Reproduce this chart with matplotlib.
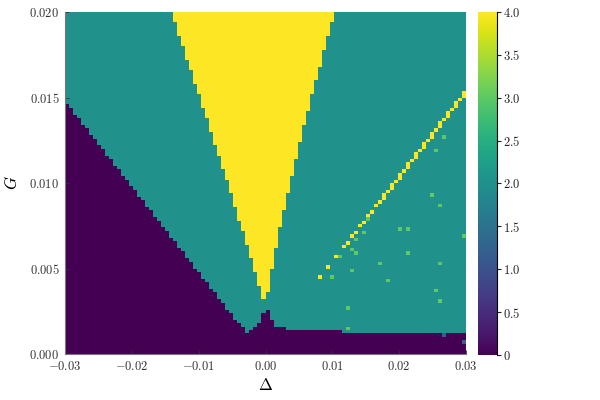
import numpy as np
import matplotlib
matplotlib.use("Agg")
import matplotlib.pyplot as plt
from matplotlib.ticker import FixedLocator, FixedFormatter

plt.rcParams['mathtext.fontset'] = 'cm'
plt.rcParams['font.family'] = ['DejaVu Serif']

# grid
n_delta = 100
n_g = 100
delta_edges = np.linspace(-0.03, 0.03, n_delta + 1)
g_edges = np.linspace(0.0, 0.02, n_g + 1)

# background value
base_value = 2.0

# number of purple (value 0) rows counted from the bottom, per Delta column
purple_rows = [73, 72, 70, 69, 67, 66, 64, 63, 61, 60, 58, 57, 55, 54, 52, 51,
               49, 48, 46, 45, 43, 42, 40, 39, 37, 36, 34, 33, 31, 30, 28, 27,
               25, 24, 22, 21, 19, 18, 16, 15, 13, 12, 10, 9, 8, 6,
               7, 8, 9, 12, 13, 10, 8, 8, 8, 7,
               7, 7, 7, 7, 7, 7, 7, 7, 7, 7, 7, 7, 7,
               6, 6, 6, 6, 6, 6, 6, 6, 6, 6, 6, 6, 6, 6, 6, 6,
               6, 6, 6, 6, 6, 6, 6, 6, 6, 6, 6, 6, 6, 6, 6]

# yellow wedge (value 4): columns and lowest yellow row (up to top)
wedge_cols = list(range(27, 67))
wedge_bottom = [97, 93, 90, 86, 83, 79, 76, 72, 69, 65,
                61, 58, 54, 51, 47, 43, 39, 36, 32, 28,
                24, 20, 16, 18, 25, 31, 37, 42, 47, 52,
                57, 62, 67, 71, 76, 80, 84, 89, 93, 97]

# diagonal line of value 4
diag_cols = [63, 65, 67, 69, 70, 71, 72, 73, 74, 75, 76, 77, 78, 79, 79, 80,
             81, 81, 82, 83, 83, 84, 85, 85, 86, 87, 87, 88, 89, 89, 90, 91,
             91, 92, 93, 93, 94, 95, 95, 96, 97, 97, 98, 99, 99]
diag_rows = [22, 25, 28, 31, 32, 34, 35, 37, 38, 40, 41, 43, 44, 45, 46, 47,
             48, 49, 50, 51, 52, 53, 54, 55, 56, 57, 58, 59, 60, 61, 62, 63,
             64, 65, 66, 67, 68, 69, 70, 71, 72, 73, 74, 75, 76]

# scattered value-3 cells
green_cols = [94, 92, 91, 93, 75, 74, 83, 85, 72, 71, 72, 68, 85, 78, 93, 71,
              66, 80, 92, 93, 70, 70, 99]
green_rows = [63, 59, 46, 43, 39, 35, 36, 36, 33, 30, 29, 28, 29, 26, 26, 24,
              22, 21, 18, 15, 13, 7, 34]

# scattered low cells inside the purple band
blue_cols = [94, 99]
blue_rows = [5, 3]
blue_vals = [1.2, 1.2]

# build the table
Z = np.full((n_g, n_delta), base_value)
for c, p in enumerate(purple_rows):
    Z[:p, c] = 0.0
for c, b in zip(wedge_cols, wedge_bottom):
    Z[b:, c] = 4.0
for c, r in zip(diag_cols, diag_rows):
    Z[r, c] = 4.0
for c, r in zip(green_cols, green_rows):
    Z[r, c] = 3.0
for c, r, v in zip(blue_cols, blue_rows, blue_vals):
    Z[r, c] = v

fig = plt.figure(figsize=(6, 4), dpi=100)
ax = fig.add_axes([65/600, 1 - 354/400, 401/600, 342/400])
mesh = ax.pcolormesh(delta_edges, g_edges, Z, cmap='viridis', vmin=0, vmax=4,
                     shading='flat', rasterized=True)
ax.set_xlim(-0.03, 0.03)
ax.set_ylim(0, 0.02)

xt = [-0.03, -0.02, -0.01, 0.0, 0.01, 0.02, 0.03]
xtl = [r'$-0.03$', r'$-0.02$', r'$-0.01$', r'$0.00$', r'$0.01$', r'$0.02$', r'$0.03$']
yt = [0.0, 0.005, 0.01, 0.015, 0.02]
ytl = [r'$0.000$', r'$0.005$', r'$0.010$', r'$0.015$', r'$0.020$']
ax.xaxis.set_major_locator(FixedLocator(xt))
ax.xaxis.set_major_formatter(FixedFormatter(xtl))
ax.yaxis.set_major_locator(FixedLocator(yt))
ax.yaxis.set_major_formatter(FixedFormatter(ytl))
ax.tick_params(direction='in', length=3, width=0.6, colors='#333333',
               labelsize=9, pad=4)
for s in ['top', 'right']:
    ax.spines[s].set_visible(False)
for s in ['left', 'bottom']:
    ax.spines[s].set_color('#777777')
    ax.spines[s].set_linewidth(0.8)
    ax.spines[s].set_zorder(5)
ax.set_xlabel(r'$\Delta$', fontsize=12, labelpad=3)
ax.set_ylabel(r'$G$', fontsize=12, labelpad=6)

cax = fig.add_axes([478/600, 1 - 355/400, 19/600, 343/400])
cbar = fig.colorbar(mesh, cax=cax)
cbar.outline.set_visible(False)
cax.spines['right'].set_visible(True)
cax.spines['right'].set_color('black')
cax.spines['right'].set_linewidth(0.8)
ct = [0, 0.5, 1.0, 1.5, 2.0, 2.5, 3.0, 3.5, 4.0]
ctl = [r'$0$', r'$0.5$', r'$1.0$', r'$1.5$', r'$2.0$', r'$2.5$', r'$3.0$', r'$3.5$', r'$4.0$']
cax.yaxis.set_major_locator(FixedLocator(ct))
cax.yaxis.set_major_formatter(FixedFormatter(ctl))
cax.tick_params(direction='out', length=3, width=0.8, labelsize=9, pad=1,
                colors='#222222')
cax.minorticks_off()

fig.savefig('out.png', dpi=100)
